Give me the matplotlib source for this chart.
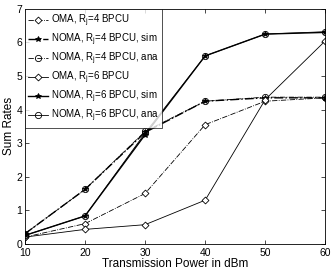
import matplotlib
matplotlib.use("Agg")
from matplotlib import pyplot as plt

plt.rcParams['font.family'] = ['Liberation Sans', 'DejaVu Sans']
plt.rcParams['mathtext.fontset'] = 'custom'
plt.rcParams['mathtext.rm'] = 'Liberation Sans'
plt.rcParams['mathtext.it'] = 'Liberation Sans'

power = [10, 20, 30, 40, 50, 60]
oma_r4 = [0.2, 0.6, 1.5, 3.55, 4.25, 4.35]
noma_r4_sim = [0.3, 1.62, 3.32, 4.25, 4.35, 4.35]
noma_r4_ana = [0.3, 1.62, 3.35, 4.25, 4.37, 4.37]
oma_r6 = [0.2, 0.43, 0.57, 1.3, 4.3, 6.05]
noma_r6_sim = [0.25, 0.83, 3.25, 5.6, 6.25, 6.3]
noma_r6_ana = [0.25, 0.83, 3.3, 5.6, 6.25, 6.32]

labels = [r'OMA, R$_j$=4 BPCU', r'NOMA, R$_j$=4 BPCU, sim', r'NOMA, R$_j$=4 BPCU, ana',
          r'OMA, R$_j$=6 BPCU', r'NOMA, R$_j$=6 BPCU, sim', r'NOMA, R$_j$=6 BPCU, ana']

fig = plt.figure(figsize=(3.32, 2.70), dpi=100)
ax = fig.add_axes([0.075, 0.097, 0.905, 0.87])

ax.plot(power, oma_r4, color='k', ls='-.', lw=0.6, marker='D', ms=3.5, mfc='white', mew=0.6, label=labels[0])
ax.plot(power, noma_r4_sim, color='k', ls='-.', lw=1.0, marker='*', ms=4, mew=0.6, label=labels[1])
ax.plot(power, noma_r4_ana, color='k', ls='-.', lw=0.6, marker='o', ms=4.5, mfc='none', mew=0.6, label=labels[2])
ax.plot(power, oma_r6, color='k', ls='-', lw=0.6, marker='D', ms=3.5, mfc='white', mew=0.6, label=labels[3])
ax.plot(power, noma_r6_sim, color='k', ls='-', lw=1.0, marker='*', ms=4, mew=0.6, label=labels[4])
ax.plot(power, noma_r6_ana, color='k', ls='-', lw=0.6, marker='o', ms=4.5, mfc='none', mew=0.6, label=labels[5])

ax.set_xlim(10, 60)
ax.set_ylim(0, 7)
ax.set_xticks(power)
ax.set_yticks(range(8))
ax.tick_params(direction='in', labelsize=7.5, length=3, width=0.5, pad=2, top=True, right=True)
ax.tick_params(axis='x', pad=3)
for s in ax.spines.values():
    s.set_linewidth(0.6)
ax.set_xlabel('Transmission Power in dBm', fontsize=8.5, labelpad=0)
ax.set_ylabel('Sum Rates', fontsize=8.5, labelpad=1)

leg = ax.legend(loc='upper left', fontsize=7, frameon=True, fancybox=False, edgecolor='k',
                handlelength=2.0, handletextpad=0.3, labelspacing=0.28, borderaxespad=0.0,
                borderpad=0.35)
leg.get_frame().set_linewidth(0.6)

fig.savefig('out.png', dpi=100)
